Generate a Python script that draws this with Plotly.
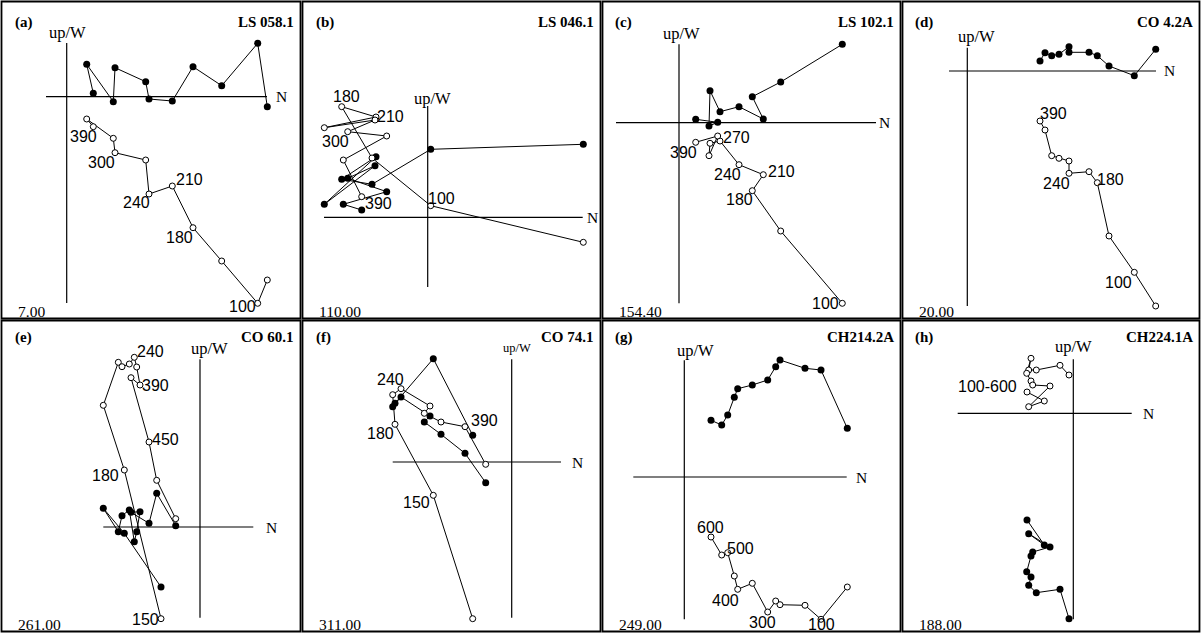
import plotly.graph_objects as go

W, H = 1201, 633

# ---------------- data: components relative to the diagram origin ----------------
# each panel: north component (x), west component (filled, horizontal plane),
# up component (open, vertical plane); steps ordered from NRM onwards

# (a) LS 058.1
a_north = [200.6, 191.0, 155.0, 126.3, 105.6, 82.3, 79.0, 48.3, 46.6, 20.0, 26.6]
a_west = [-10.0, 53.4, 11.0, 30.0, -4.3, -2.3, 15.0, 29.0, -5.0, 32.4, 3.4]
a_up = [-183.3, -206.6, -164.3, -131.0, -89.3, -97.3, -63.3, -56.0, -41.6, -22.3, -30.0]
a_steps = [(10, "390"), (7, "300"), (5, "240"), (4, "210"), (3, "180"), (1, "100")]
a_n_axis = [-20.7, 200.3]
a_v_axis = [-206.3, 53.7]

# (b) LS 046.1
b_north = [155.6, 3.0, -55.7, -86.0, -51.7, -103.4, -52.7, -80.0, -41.0, -84.4, -66.0]
b_west = [73.0, 68.0, 33.0, 38.0, 60.6, 13.0, 51.6, 39.0, 25.6, 13.0, 7.3]
b_up = [-25.0, 11.6, 59.3, 110.6, 100.3, 89.6, 97.3, 85.6, 81.3, 57.3, 20.6]
b_steps = [(3, "180"), (4, "210"), (7, "300"), (10, "390"), (1, "100")]
b_n_axis = [-103.7, 155.0]
b_v_axis = [-69.7, 111.3]

# (c) LS 102.1
c_north = [163.3, 101.7, 73.3, 84.3, 60.0, 41.0, 31.0, 30.0, 38.7, 16.7]
c_west = [78.4, 40.7, 26.0, 3.7, 16.0, 11.0, 32.0, -3.3, 0.4, 3.4]
c_up = [-180.6, -108.3, -68.0, -52.0, -42.0, -18.3, -20.6, -33.0, -13.3, -19.6]
c_steps = [(8, "270"), (9, "390"), (4, "240"), (3, "210"), (2, "180"), (0, "100")]
c_n_axis = [-63.0, 197.0]
c_v_axis = [-180.6, 78.4]

# (d) CO 4.2A
d_north = [188.4, 167.0, 141.7, 130.0, 121.7, 101.7, 101.7, 91.7, 84.4, 77.7, 72.7]
d_west = [21.7, -4.7, 5.0, 15.3, 18.7, 18.7, 24.3, 16.7, 15.3, 18.3, 10.0]
d_up = [-235.0, -201.3, -165.0, -111.7, -100.7, -102.3, -90.0, -87.3, -84.7, -59.0, -50.0]
d_steps = [(10, "390"), (5, "240"), (3, "180"), (1, "100")]
d_n_axis = [-18.3, 188.7]
d_v_axis = [-235.0, 23.3]

# (e) CO 60.1
e_north = [-39.0, -75.7, -96.7, -81.7, -78.0, -70.7, -65.7, -63.3, -60.0, -69.0, -51.0, -43.3, -24.3]
e_west = [-60.0, -6.3, 18.7, -4.7, 11.3, 17.0, -14.7, -4.7, 15.3, 14.7, 3.7, 33.7, 1.3]
e_up = [-91.7, 57.0, 121.7, 164.7, 160.3, 163.0, 169.7, 160.0, 142.0, 149.3, 85.0, 46.7, 8.3]
e_steps = [(6, "240"), (8, "390"), (10, "450"), (1, "180"), (0, "150")]
e_n_axis = [-96.7, 53.3]
e_v_axis = [-90.7, 167.7]

# (f) CO 74.1
f_north = [-39.0, -78.4, -116.7, -119.0, -110.7, -81.7, -87.4, -70.7, -46.7, -26.0]
f_west = [26.7, 103.3, 58.7, 55.3, 65.0, 46.0, 40.0, 27.7, 8.7, -20.7]
f_up = [-156.7, -33.3, 37.7, 67.3, 73.3, 56.0, 48.7, 40.0, 35.3, -2.3]
f_steps = [(4, "240"), (8, "390"), (2, "180"), (1, "150")]
f_n_axis = [-119.0, 49.3]
f_v_axis = [-155.7, 102.7]

# (g) CH214.2A
g_north = [163.0, 136.7, 120.7, 95.7, 91.4, 83.4, 68.0, 53.4, 50.0, 43.4, 37.4, 26.7]
g_west = [48.7, 107.0, 108.7, 117.0, 110.3, 97.0, 92.0, 88.3, 79.7, 62.0, 52.0, 56.7]
g_up = [-110.0, -142.3, -128.3, -127.7, -124.0, -135.0, -106.3, -112.3, -99.0, -75.7, -78.0, -60.0]
g_steps = [(11, "600"), (9, "500"), (7, "400"), (5, "300"), (1, "100")]
g_n_axis = [-51.0, 162.4]
g_v_axis = [-142.3, 116.7]

# (h) CH224.1A
h_north = [-4.3, -13.3, -37.0, -44.6, -42.3, -46.6, -42.3, -40.6, -23.3, -44.6, -29.0, -46.3]
h_west = [-205.4, -176.0, -179.4, -172.0, -163.7, -158.4, -142.7, -138.7, -133.7, -120.4, -131.7, -106.7]
h_up = [38.3, 48.0, 43.3, 43.3, 55.0, 40.0, 32.3, 28.3, 27.3, 6.6, 12.3, 21.3]
h_steps = [(6, "100-600")]
h_n_axis = [-115.6, 58.4]
h_v_axis = [-206.0, 54.0]

letters = ["(a)", "(b)", "(c)", "(d)", "(e)", "(f)", "(g)", "(h)"]
samples = ["LS 058.1", "LS 046.1", "LS 102.1", "CO 4.2A", "CO 60.1", "CO 74.1", "CH214.2A", "CH224.1A"]
nrm_values = ["7.00", "110.00", "154.40", "20.00", "261.00", "311.00", "249.00", "188.00"]

norths = [a_north, b_north, c_north, d_north, e_north, f_north, g_north, h_north]
wests = [a_west, b_west, c_west, d_west, e_west, f_west, g_west, h_west]
ups = [a_up, b_up, c_up, d_up, e_up, f_up, g_up, h_up]
steps = [a_steps, b_steps, c_steps, d_steps, e_steps, f_steps, g_steps, h_steps]
n_axes = [a_n_axis, b_n_axis, c_n_axis, d_n_axis, e_n_axis, f_n_axis, g_n_axis, h_n_axis]
v_axes = [a_v_axis, b_v_axis, c_v_axis, d_v_axis, e_v_axis, f_v_axis, g_v_axis, h_v_axis]

# ---------------- layout geometry (pixels) ----------------
cols = [(1.5, 300.5), (302.5, 600.5), (602.5, 900.5), (902.5, 1199.5)]
rows = [(1.5, 318.5), (320.5, 631.5)]
origins = [(66.7, 96.7), (427.7, 217.3), (679.0, 122.7), (967.3, 71.0),
           (200.0, 527.0), (511.7, 462.0), (684.3, 477.0), (1073.3, 413.3)]
# step-label offsets (dx, dy in px; dy positive = downwards)
step_offsets = [
    [(-10, 10), (-13.3, 10), (-12.3, 8.7), (17, -6), (-14, 10), (-15.4, 3.4)],
    [(5, -10), (14, 0), (-12.7, 10), (16.6, 7.3), (11, -7.4)],
    [(19, 1.7), (-12.4, 10), (-11.3, 9.6), (18.4, -3), (-13, 9.3), (-16.6, 0)],
    [(13.3, -7.7), (-12.3, 10), (12.7, -2.7), (-16, 10.4)],
    [(15.7, -6.3), (15, 0), (16, -2.7), (-19.3, 5.3), (-15.3, 0.6)],
    [(-10.3, -9.4), (19.3, -6.7), (-15, 9.4), (-16.6, 7.4)],
    [(-1, -9.3), (12.3, -4), (-12.7, 10.7), (-5, 10), (0.7, 4.8)],
    [(-43.7, 5)],
]
n_label_shift = [14.3, 9.3, 8.5, 13.3, 18.4, 16.3, 15.0, 16.7]
upw_shift = [(0.3, 10), (4.6, 7), (2.7, 11), (9.4, 11), (9.3, 11.3), (5.6, 11), (11.4, 10), (0.4, 13)]
upw_size = [16.5, 16.5, 16.5, 16.5, 16.5, 12.5, 16.5, 16.5]

SERIF = "Liberation Serif, Times New Roman, serif"
SANS = "Liberation Sans, Arial, sans-serif"


def px(x):
    return x / W


def py(y):
    return 1 - y / H


fig = go.Figure()
layout_axes = {}
annotations = []
shapes = []

for i in range(8):
    k = i + 1
    xa = "x" if k == 1 else f"x{k}"
    ya = "y" if k == 1 else f"y{k}"
    c, r = i % 4, i // 4
    x0, x1 = cols[c]
    y0, y1 = rows[r]
    ox, oy = origins[i]
    layout_axes["xaxis" if k == 1 else f"xaxis{k}"] = dict(
        domain=[px(x0), px(x1)], range=[x0 - ox, x1 - ox], visible=False,
        anchor=ya, fixedrange=True)
    layout_axes["yaxis" if k == 1 else f"yaxis{k}"] = dict(
        domain=[py(y1), py(y0)], range=[oy - y1, oy - y0], visible=False,
        anchor=xa, fixedrange=True)

    # axes of the diagram
    fig.add_trace(go.Scatter(x=n_axes[i], y=[0, 0], mode="lines",
                             line=dict(color="black", width=1.2),
                             xaxis=xa, yaxis=ya, hoverinfo="skip", showlegend=False))
    fig.add_trace(go.Scatter(x=[0, 0], y=v_axes[i], mode="lines",
                             line=dict(color="black", width=1.2),
                             xaxis=xa, yaxis=ya, hoverinfo="skip", showlegend=False))
    # horizontal-plane projection (filled)
    fig.add_trace(go.Scatter(x=norths[i], y=wests[i], mode="lines+markers",
                             line=dict(color="black", width=1),
                             marker=dict(size=7, color="black", line=dict(width=0)),
                             xaxis=xa, yaxis=ya, showlegend=False, cliponaxis=False))
    # vertical-plane projection (open)
    fig.add_trace(go.Scatter(x=norths[i], y=ups[i], mode="lines+markers",
                             line=dict(color="black", width=1),
                             marker=dict(size=6, color="white", line=dict(color="black", width=1)),
                             xaxis=xa, yaxis=ya, showlegend=False, cliponaxis=False))

    # step labels
    for (idx, txt), (dx, dy) in zip(steps[i], step_offsets[i]):
        annotations.append(dict(x=norths[i][idx], y=ups[i][idx], xref=xa, yref=ya,
                                text=txt, showarrow=False, xshift=dx, yshift=-dy,
                                xanchor="center", yanchor="middle",
                                font=dict(family=SANS, size=16, color="black")))
    # N label
    annotations.append(dict(x=n_axes[i][1], y=0, xref=xa, yref=ya, text="N",
                            showarrow=False, xshift=n_label_shift[i], xanchor="center",
                            yanchor="middle", font=dict(family=SERIF, size=15.5, color="black")))
    # up/W label
    annotations.append(dict(x=0, y=v_axes[i][1], xref=xa, yref=ya, text="up/W",
                            showarrow=False, xshift=upw_shift[i][0], yshift=upw_shift[i][1],
                            xanchor="center", yanchor="middle",
                            font=dict(family=SERIF, size=upw_size[i], color="black")))

    top_off = 21 if r == 0 else 17
    annotations.append(dict(x=px(x0 + 11), y=py(y0 + top_off), xref="paper", yref="paper",
                            text=f"<b>{letters[i]}</b>", showarrow=False, xanchor="left",
                            yanchor="middle", font=dict(family=SERIF, size=15, color="black")))
    annotations.append(dict(x=px(x1 - 4.5), y=py(y0 + top_off - 1), xref="paper", yref="paper",
                            text=f"<b>{samples[i]}</b>", showarrow=False, xanchor="right",
                            yanchor="middle", font=dict(family=SERIF, size=15, color="black")))
    annotations.append(dict(x=px(x0 + 14), y=py(y1 - 7), xref="paper", yref="paper",
                            text=nrm_values[i], showarrow=False, xanchor="left",
                            yanchor="middle", font=dict(family=SERIF, size=15.5, color="black")))

    shapes.append(dict(type="rect", xref="paper", yref="paper",
                       x0=px(x0), x1=px(x1), y0=py(y1), y1=py(y0),
                       line=dict(color="black", width=1.8), layer="above"))

fig.update_layout(width=W, height=H, margin=dict(l=0, r=0, t=0, b=0),
                  paper_bgcolor="white", plot_bgcolor="white", showlegend=False,
                  annotations=annotations, shapes=shapes, **layout_axes)

fig.write_html("out.html", config={"displayModeBar": False},
               post_script="document.body.style.margin='0px';")
